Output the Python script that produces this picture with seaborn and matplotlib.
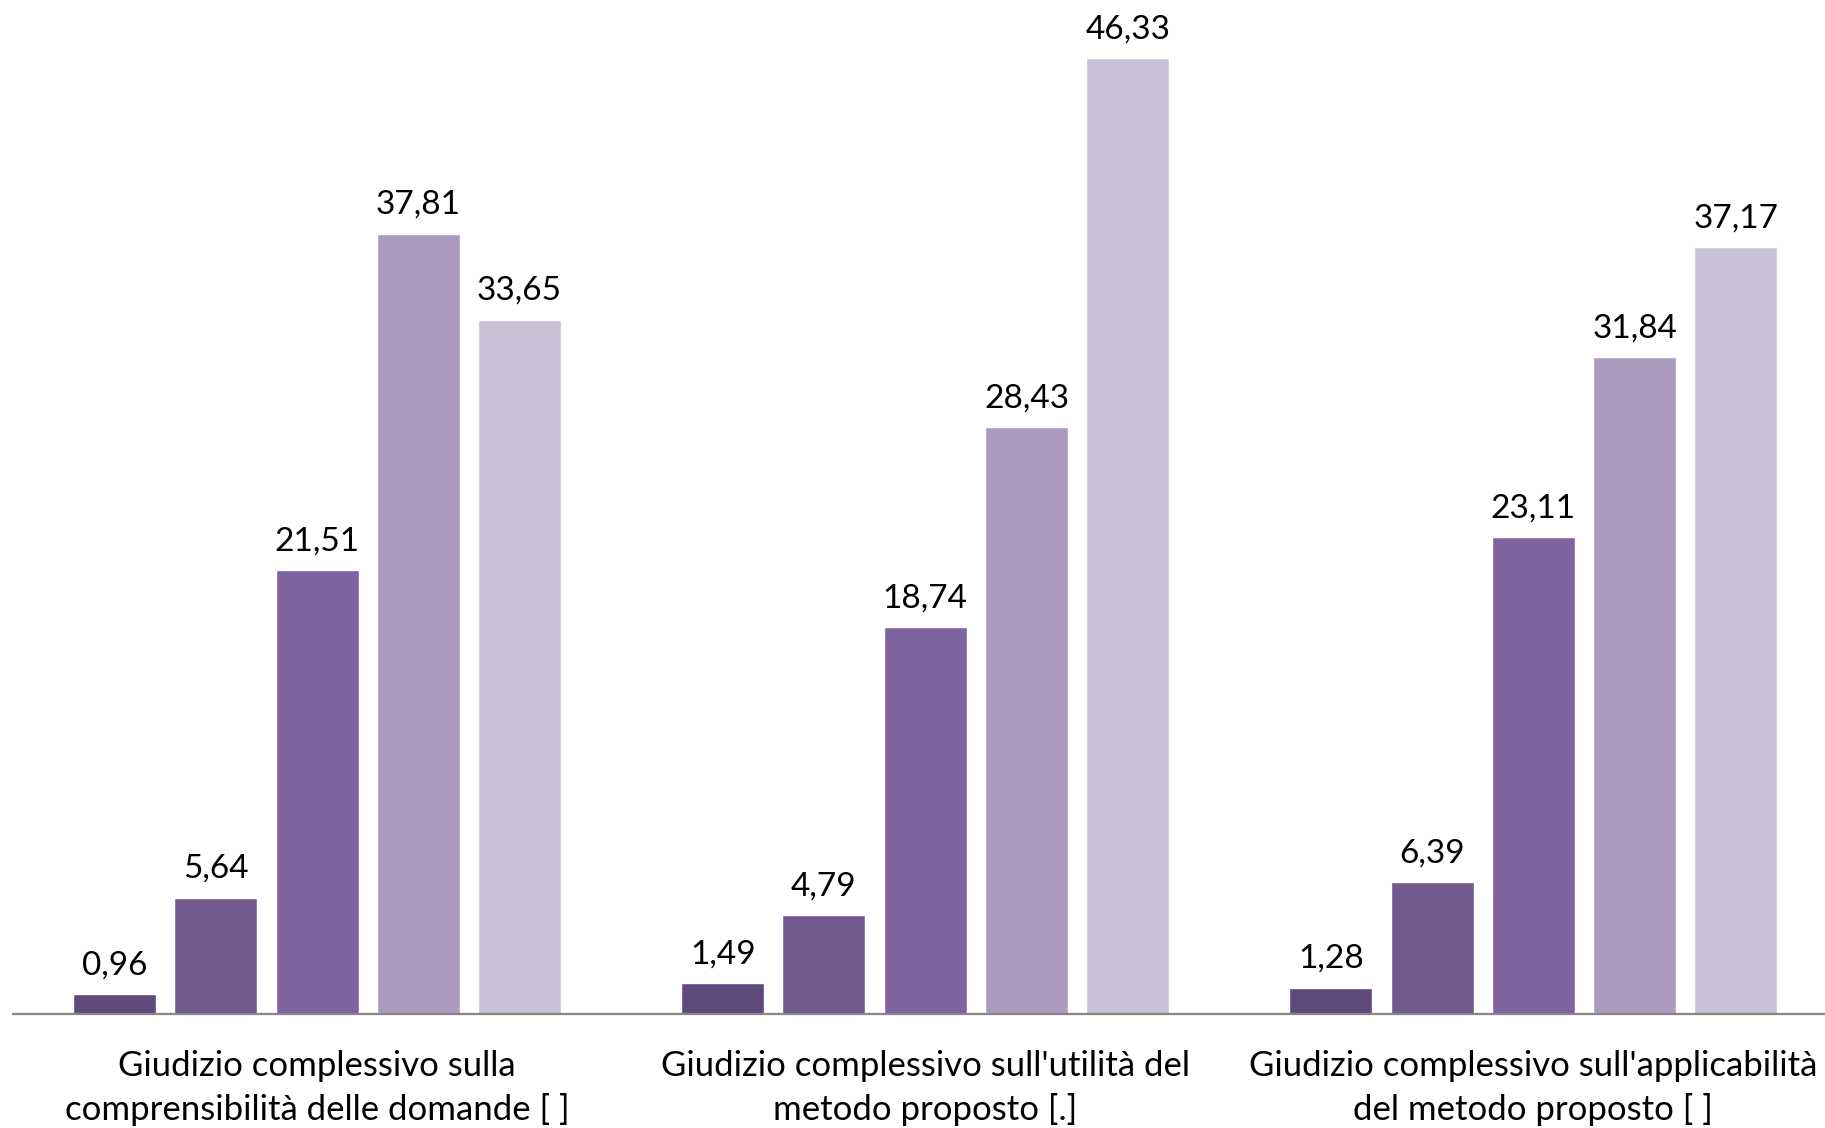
import matplotlib
matplotlib.use("Agg")
import matplotlib.pyplot as plt
import seaborn as sns
import pandas as pd

categories = [
    "Giudizio complessivo sulla\ncomprensibilità delle domande [ ]",
    "Giudizio complessivo sull'utilità del\nmetodo proposto [.]",
    "Giudizio complessivo sull'applicabilità\ndel metodo proposto [ ]",
]
levels = ["1", "2", "3", "4", "5"]
values_1 = [0.96, 1.49, 1.28]
values_2 = [5.64, 4.79, 6.39]
values_3 = [21.51, 18.74, 23.11]
values_4 = [37.81, 28.43, 31.84]
values_5 = [33.65, 46.33, 37.17]
colors = ["#604a7b", "#725a8f", "#8064a2", "#aa9bbf", "#c8c1d8"]

series = [values_1, values_2, values_3, values_4, values_5]
rows = []
for lev, vals in zip(levels, series):
    for cat, v in zip(categories, vals):
        rows.append({"categoria": cat, "livello": lev, "valore": v})
df = pd.DataFrame(rows)

sns.set_style("white")
plt.rcParams["font.family"] = ["Lato", "DejaVu Sans"]

fig = plt.figure(figsize=(18.25, 11.28), dpi=100)
ax_left = 13 / 1825
ax_width = 1824.4 / 1825
ax = fig.add_axes([ax_left, (1128 - 1014) / 1128, ax_width, 1014 / 1128])

sns.barplot(data=df, x="categoria", y="valore", hue="livello", order=categories,
            hue_order=levels, palette=colors, width=0.8325, gap=0.18,
            saturation=1, legend=False, ax=ax, errorbar=None)

for cont in ax.containers:
    labels = [f"{v:.2f}".replace(".", ",") for v in cont.datavalues]
    ax.bar_label(cont, labels=labels, padding=10, fontsize=24, color="black")

ax.set_xlim(-0.5, 2.5)
ax.set_ylim(0, 49.14)
ax.set_xlabel("")
ax.set_ylabel("")
ax.set_yticks([])
for s in ["top", "right", "left"]:
    ax.spines[s].set_visible(False)
ax.spines["bottom"].set_color("#868686")
ax.spines["bottom"].set_linewidth(1.6)
ax.tick_params(axis="x", length=0, pad=26, labelsize=25, labelcolor="black")
for t in ax.get_xticklabels():
    t.set_linespacing(1.4)

fig.savefig("out.png", dpi=100)
